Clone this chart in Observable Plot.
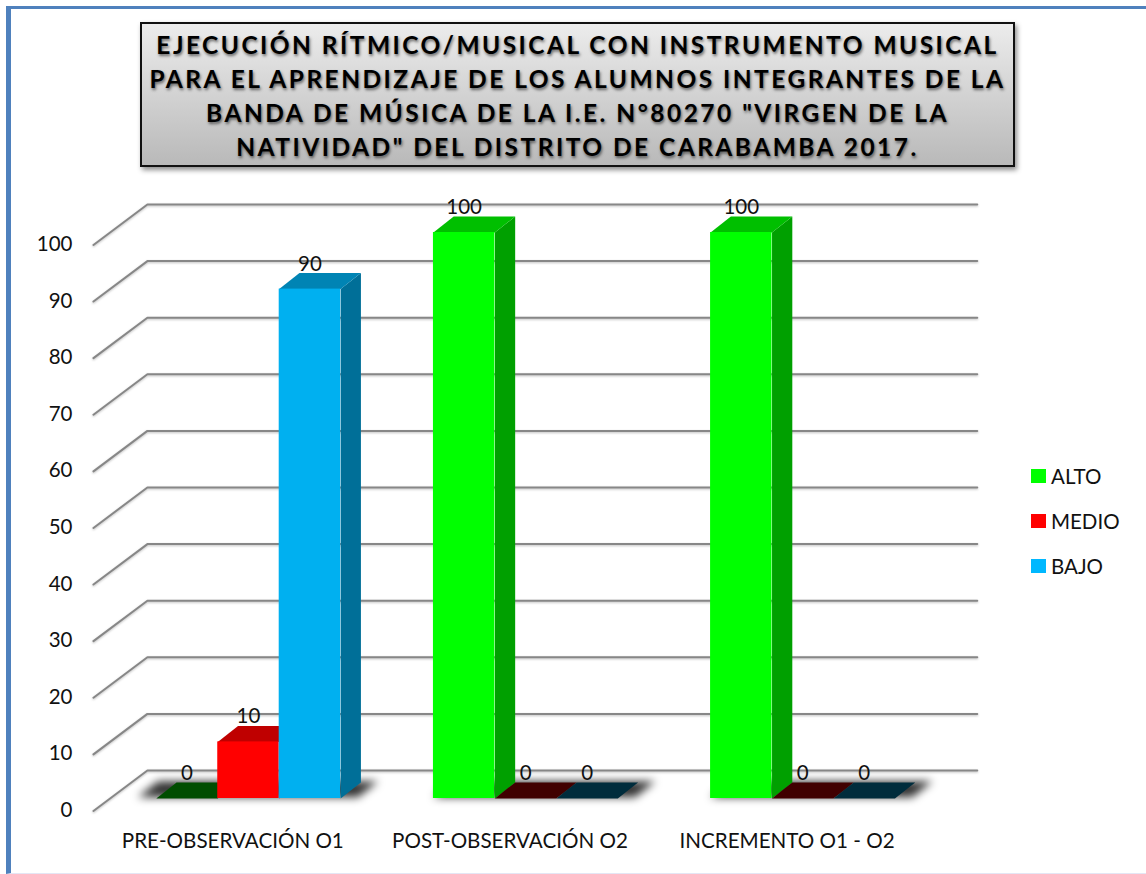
<!DOCTYPE html>
<html lang="es">
<head>
<meta charset="utf-8">
<script src="https://cdn.jsdelivr.net/npm/d3@7"></script>
<script src="https://cdn.jsdelivr.net/npm/@observablehq/plot@0.6"></script>
<style>
html,body{margin:0;padding:0;background:#fff;overflow:hidden;width:1146px;height:874px;}
#page{position:relative;width:1146px;height:874px;overflow:hidden;}
#frame{position:absolute;left:6px;top:6px;width:1135px;height:864px;border-style:solid;border-color:#4f81bd;border-width:3px 3px 1px 5px;border-bottom-color:#e4e6f4;}
#chart{position:absolute;left:0;top:0;}
#title{position:absolute;left:140px;top:22px;width:871px;height:141px;border:2px solid #111;
 background:linear-gradient(#ececec,#b9b9b9);box-shadow:2px 3px 5px rgba(0,0,0,.45);
 font:700 24.5px/34px Lato,sans-serif;letter-spacing:2.47px;text-align:center;color:#000;white-space:nowrap;
 text-shadow:1px 2px 3px rgba(0,0,0,.55);display:flex;align-items:center;justify-content:center;}
#titleText{position:relative;top:1px;}
.lg{position:absolute;left:1031px;font:20.5px/24px Lato,sans-serif;color:#111;white-space:nowrap;}
.lg i{position:absolute;left:0;top:5px;width:15px;height:14px;}
.lg span{position:absolute;left:20px;top:0;}
.sombra{filter:blur(4px);}
.reticula{filter:drop-shadow(0 1px 1px rgba(0,0,0,.25));}
</style>
</head>
<body>
<div id="page">
  <div id="frame"></div>
  <div id="plotHost"></div>
  <div id="title"><div id="titleText"></div></div>
  <div id="legend"></div>
</div>
<script>
const titleLines = [
  "EJECUCIÓN RÍTMICO/MUSICAL CON INSTRUMENTO MUSICAL",
  "PARA EL APRENDIZAJE DE LOS ALUMNOS INTEGRANTES DE LA",
  "BANDA DE MÚSICA DE LA I.E. N°80270 \"VIRGEN DE LA",
  "NATIVIDAD\" DEL DISTRITO DE CARABAMBA 2017."
];
const categories = ["PRE-OBSERVACIÓN O1", "POST-OBSERVACIÓN O2", "INCREMENTO O1 - O2"];
const seriesNames = ["ALTO", "MEDIO", "BAJO"];
const alto = [0, 100, 100];
const medio = [10, 0, 0];
const bajo = [90, 0, 0];
const yTicks = [0, 10, 20, 30, 40, 50, 60, 70, 80, 90, 100];

const frontColors = ["#00ff00", "#ff0000", "#00b0f0"];
const topColors = ["#00bf00", "#bf0000", "#0084b4"];
const sideColors = ["#00a000", "#a00000", "#006f98"];
const floorColors = ["#004d00", "#400000", "#002c3c"];
const legendColors = ["#00ff00", "#ff0000", "#00b8ff"];

document.getElementById("titleText").innerHTML = titleLines.join("<br>");

// The x scale counts bar slots; a group occupies three slots, with a gap.
const groupStep = 4.51;
const depthX = 0.33, depthY = 2.83;           // bar depth in scale units
const series = [alto, medio, bajo];
const bars = categories.flatMap((c, g) => series.map((vals, s) => ({
  g, s, value: vals[g], x1: g * groupStep + s, x2: g * groupStep + s + 1
})));

const polys = [];
bars.forEach((b, i) => {
  const add = (pts, fill) => pts.forEach(([x, y]) => polys.push({id: i + fill, x, y, fill}));
  if (b.value > 0) {
    add([[b.x2, 0], [b.x2 + depthX, depthY], [b.x2 + depthX, b.value + depthY], [b.x2, b.value]], sideColors[b.s]);
    add([[b.x1, b.value], [b.x2, b.value], [b.x2 + depthX, b.value + depthY], [b.x1 + depthX, b.value + depthY]], topColors[b.s]);
  } else {
    add([[b.x1, 0], [b.x2, 0], [b.x2 + depthX, depthY], [b.x1 + depthX, depthY]], floorColors[b.s]);
  }
});

const shadowLeft = [0.3, 0, 0];
const shadows = categories.flatMap((c, g) => {
  const a = g * groupStep, b = a + 3;
  return [[a - shadowLeft[g], 0.2], [b + 0.28, 0.2], [b + depthX + 0.28, depthY + 0.2], [a + depthX - shadowLeft[g], depthY + 0.2]]
    .map(([x, y]) => ({g, x, y}));
});

const backX = -0.145, frontX = -1.023, endX = 13.36;
const backDY = 4.95, frontDY = -2.2;
const grid = yTicks.flatMap(v => [
  {v, x: frontX, y: v + frontDY},
  {v, x: backX, y: v + backDY},
  {v, x: endX, y: v + backDY}
]);

const groupLabels = categories.map((name, g) => ({name, x: g * groupStep + 1.245}));
const labelled = bars.map(b => ({...b, cx: (b.x1 + b.x2) / 2}));
const font = "Lato, sans-serif";

const chart = Plot.plot({
  width: 1146,
  height: 874,
  marginLeft: 80,
  marginRight: 0, marginTop: 0, marginBottom: 0,
  style: {background: "transparent", fontFamily: font},
  x: {type: "linear", domain: [0, 10], range: [155.8, 770.3], axis: null},
  y: {type: "linear", domain: [0, 100], range: [798, 232], axis: null},
  marks: [
    Plot.line(grid, {x: "x", y: "y", z: "v", stroke: "#878787", strokeWidth: 2, className: "reticula"}),
    Plot.axisY(yTicks, {anchor: "left", tickSize: 0, tickPadding: 8, dy: 12, fontSize: 20.5, fill: "#111", label: null}),
    Plot.line(shadows, {x: "x", y: "y", z: "g", fill: "#000", fillOpacity: 0.8, stroke: null, className: "sombra"}),
    Plot.line(polys, {x: "x", y: "y", z: "id", fill: "fill", stroke: null}),
    Plot.rect(bars.filter(b => b.value > 0), {
      x1: "x1", x2: "x2", y1: () => 0, y2: "value",
      fill: d => frontColors[d.s]
    }),
    Plot.text(labelled, {x: "cx", y: "value", text: d => String(d.value), dy: -25, fontSize: 20.5, fill: "#111"}),
    Plot.text(groupLabels, {x: "x", y: () => 0, text: "name", dy: 43, fontSize: 20.6, fill: "#111"})
  ]
});
chart.id = "chart";
document.getElementById("plotHost").appendChild(chart);

const legend = document.getElementById("legend");
seriesNames.forEach((name, i) => {
  const row = document.createElement("div");
  row.className = "lg";
  row.style.top = (464 + i * 45) + "px";
  row.innerHTML = `<i style="background:${legendColors[i]}"></i><span>${name}</span>`;
  legend.appendChild(row);
});
</script>
</body>
</html>
